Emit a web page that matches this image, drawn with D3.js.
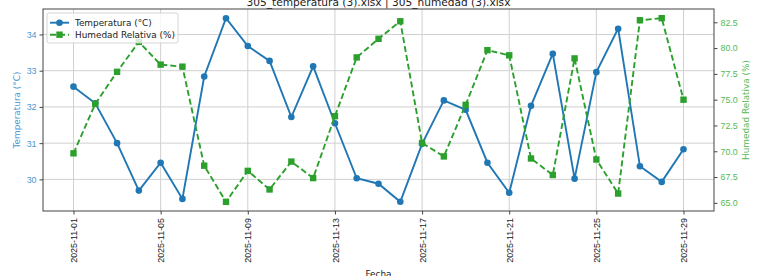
<!DOCTYPE html>
<html>
<head>
<meta charset="utf-8">
<script src="https://cdn.jsdelivr.net/npm/d3@7"></script>
<style>
  body { margin: 0; background: #fff; }
  svg { font-family: "DejaVu Sans", sans-serif; display: block; }
</style>
</head>
<body>
<script>
// daily readings, 2025-11-01 .. 2025-11-29
const fechas = d3.range(1, 30).map(d => new Date(2025, 10, d));
const temperatura = [32.56, 32.10, 31.00, 29.69, 30.46, 29.46, 32.84, 34.45, 33.68, 33.27,
  31.72, 33.12, 31.55, 30.03, 29.88, 29.38, 30.98, 32.18, 31.92, 30.46,
  29.63, 32.03, 33.47, 30.02, 32.96, 34.16, 30.36, 29.93, 30.83];
const humedad = [69.8, 74.6, 77.7, 80.6, 78.4, 78.2, 68.6, 65.1, 68.1, 66.3,
  69.0, 67.4, 73.4, 79.1, 80.9, 82.6, 70.8, 69.5, 74.5, 79.8,
  79.3, 69.3, 67.7, 79.0, 69.2, 65.9, 82.7, 82.9, 75.0];
const tempTicks = [30, 31, 32, 33, 34];
const humTicks = [65, 67.5, 70, 72.5, 75, 77.5, 80, 82.5];
const xTickDays = [1, 5, 9, 13, 17, 21, 25, 29];

const titulo = "305_temperatura (3).xlsx | 305_humedad (3).xlsx";
const blue = "#1f77b4", green = "#2ca02c";
const blueTxt = "#4a96d2", greenTxt = "#55b855";
const fs = "8.9px";

const W = 760, H = 276;
const margin = {top: 9, right: 46, bottom: 65, left: 43};
const iw = W - margin.left - margin.right;
const ih = H - margin.top - margin.bottom;

const svg = d3.select("body").append("svg").attr("width", W).attr("height", H);
const g = svg.append("g").attr("transform", `translate(${margin.left},${margin.top})`);

// matplotlib-ish 5% padding
function pad(ext, f = 0.05) {
  const r = ext[1] - ext[0];
  return [ext[0] - r * f, ext[1] + r * f];
}
const t0 = fechas[0], t1 = fechas[fechas.length - 1];
const span = t1 - t0;
const x = d3.scaleTime()
  .domain([new Date(+t0 - span * 0.05), new Date(+t1 + span * 0.05)])
  .range([0, iw]);
const yT = d3.scaleLinear().domain(pad(d3.extent(temperatura))).range([ih, 0]);
const yH = d3.scaleLinear().domain(pad(d3.extent(humedad))).range([ih, 0]);
const xTicks = xTickDays.map(d => new Date(2025, 10, d));

// grid
g.append("g").selectAll("line").data(xTicks)
  .enter().append("line")
  .attr("x1", d => x(d)).attr("x2", d => x(d)).attr("y1", 0).attr("y2", ih)
  .attr("stroke", "#d0d0d0").attr("stroke-width", 1);
g.append("g").selectAll("line").data(tempTicks)
  .enter().append("line")
  .attr("x1", 0).attr("x2", iw).attr("y1", d => yT(d)).attr("y2", d => yT(d))
  .attr("stroke", "#d0d0d0").attr("stroke-width", 1);

// axes
const fmt = d3.timeFormat("%Y-%m-%d");
const xAxis = g.append("g").attr("transform", `translate(0,${ih})`)
  .call(d3.axisBottom(x).tickValues(xTicks)
    .tickFormat(fmt).tickSizeOuter(0).tickSize(3.5).tickPadding(3));
xAxis.selectAll("text")
  .attr("transform", "rotate(-90)")
  .attr("text-anchor", "end")
  .attr("x", 0).attr("y", 0).attr("dx", "-7px").attr("dy", "0.35em")
  .style("font-size", fs).attr("fill", "#222");

const yAxisL = g.append("g")
  .call(d3.axisLeft(yT).tickValues(tempTicks).tickFormat(d3.format("d")).tickSizeOuter(0).tickSize(3.5).tickPadding(3));
yAxisL.selectAll("text").style("font-size", fs).attr("fill", blueTxt);

const yAxisR = g.append("g").attr("transform", `translate(${iw},0)`)
  .call(d3.axisRight(yH).tickValues(humTicks).tickFormat(d3.format(".1f")).tickSizeOuter(0).tickSize(3.5).tickPadding(3));
yAxisR.selectAll("text").style("font-size", fs).attr("fill", greenTxt);

[xAxis, yAxisL, yAxisR].forEach(a => {
  a.select(".domain").remove();
  a.selectAll(".tick line").attr("stroke", "#444");
});

// frame
g.append("rect").attr("width", iw).attr("height", ih)
  .attr("fill", "none").attr("stroke", "#444").attr("stroke-width", 1);

// series
const lineT = d3.line().x((d, i) => x(fechas[i])).y(d => yT(d));
const lineH = d3.line().x((d, i) => x(fechas[i])).y(d => yH(d));

g.append("path").datum(temperatura).attr("d", lineT)
  .attr("fill", "none").attr("stroke", blue).attr("stroke-width", 1.9);
g.append("g").selectAll("circle").data(temperatura).enter().append("circle")
  .attr("cx", (d, i) => x(fechas[i])).attr("cy", d => yT(d)).attr("r", 3.3).attr("fill", blue);

g.append("path").datum(humedad).attr("d", lineH)
  .attr("fill", "none").attr("stroke", green).attr("stroke-width", 1.9)
  .attr("stroke-dasharray", "6,3");
g.append("g").selectAll("rect").data(humedad).enter().append("rect")
  .attr("x", (d, i) => x(fechas[i]) - 3.2).attr("y", d => yH(d) - 3.2)
  .attr("width", 6.4).attr("height", 6.4).attr("fill", green);

// labels
svg.append("text").attr("x", margin.left + iw / 2).attr("y", 6)
  .attr("text-anchor", "middle").style("font-size", "10.6px").attr("fill", "#222")
  .text(titulo);
svg.append("text").attr("x", margin.left + iw / 2).attr("y", 277)
  .attr("text-anchor", "middle").style("font-size", fs).attr("fill", "#222")
  .text("Fecha");
svg.append("text")
  .attr("transform", `translate(20,${margin.top + ih / 2}) rotate(-90)`)
  .attr("text-anchor", "middle").style("font-size", fs).attr("fill", blueTxt)
  .text("Temperatura (°C)");
svg.append("text")
  .attr("transform", `translate(749,${margin.top + ih / 2}) rotate(-90)`)
  .attr("text-anchor", "middle").style("font-size", fs).attr("fill", greenTxt)
  .text("Humedad Relativa (%)");

// legend
const lg = g.append("g").attr("transform", "translate(4,4)");
lg.append("rect").attr("width", 131).attr("height", 30).attr("rx", 2)
  .attr("fill", "#fff").attr("fill-opacity", 0.8).attr("stroke", "#ccc").attr("stroke-width", 0.8);
const items = [
  {label: "Temperatura (°C)", color: blue, dash: null, shape: "circle"},
  {label: "Humedad Relativa (%)", color: green, dash: "6,3", shape: "square"}
];
items.forEach((it, i) => {
  const yy = 9.7 + i * 12;
  lg.append("line").attr("x1", 3).attr("x2", 22).attr("y1", yy).attr("y2", yy)
    .attr("stroke", it.color).attr("stroke-width", 1.9).attr("stroke-dasharray", it.dash);
  if (it.shape === "circle") {
    lg.append("circle").attr("cx", 12.5).attr("cy", yy).attr("r", 3.3).attr("fill", it.color);
  } else {
    lg.append("rect").attr("x", 9.3).attr("y", yy - 3.2).attr("width", 6.4).attr("height", 6.4).attr("fill", it.color);
  }
  lg.append("text").attr("x", 28).attr("y", yy + 3.2).style("font-size", fs).attr("fill", "#222")
    .text(it.label);
});
</script>
</body>
</html>
